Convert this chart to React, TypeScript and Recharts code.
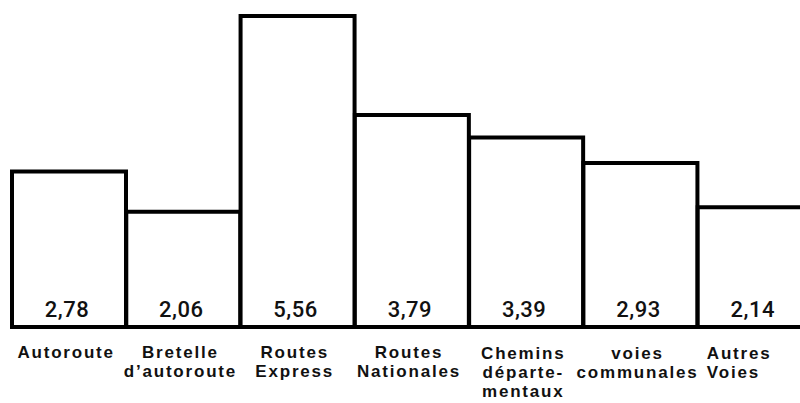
import { BarChart, Bar, XAxis, YAxis, LabelList } from "recharts";

const categories = [
  "Autoroute",
  "Bretelle\nd’autoroute",
  "Routes\nExpress",
  "Routes\nNationales",
  "Chemins\ndéparte-\nmentaux",
  "voies\ncommunales",
  "Autres\nVoies",
];
const values = [2.78, 2.06, 5.56, 3.79, 3.39, 2.93, 2.14];

const data = categories.map((name, i) => ({ name, value: values[i] }));

const FONT = "'Liberation Sans', Arial, sans-serif";

const Tick = ({ x, y, payload, index }: any) => {
  const lines = String(payload.value).split("\n");
  const last = index === categories.length - 1;
  const firstDy = index >= 4 ? 32 : 31;
  const tx = last ? x - 48 : x - 3;
  return (
    <text
      x={tx}
      y={y}
      textAnchor={last ? "start" : "middle"}
      fontFamily={FONT}
      fontWeight="bold"
      fontSize={17}
      letterSpacing={1.8}
      fill="#111"
    >
      {lines.map((l, i) => (
        <tspan key={i} x={tx} dy={i === 0 ? firstDy : 19}>{l}</tspan>
      ))}
    </text>
  );
};

const ValueLabel = ({ x, y, width, height, value }: any) => (
  <text
    x={x + width / 2 - 2}
    y={y + height - 10}
    textAnchor="middle"
    fontFamily="Roboto, 'Liberation Sans', sans-serif"
    fontWeight={500}
    fontSize={22}
    letterSpacing={0.5}
    fill="#111"
  >
    {Number(value).toFixed(2).replace(".", ",")}
  </text>
);

export default function App() {
  return (
    <div style={{ position: "absolute", left: 0, top: 0, width: 800, height: 403, overflow: "hidden", background: "#fff" }}>
      <BarChart width={812} height={403} data={data} barCategoryGap={0} margin={{ top: 16, right: 0, left: 12, bottom: 0 }}>
        <XAxis dataKey="name" interval={0} axisLine={false} tickLine={false} tickSize={0} tickMargin={0} height={76} tick={<Tick />} />
        <YAxis hide domain={[0, 5.56]} />
        <Bar dataKey="value" fill="#fff" stroke="#000" strokeWidth={4} isAnimationActive={false}>
          <LabelList dataKey="value" content={<ValueLabel />} />
        </Bar>
      </BarChart>
    </div>
  );
}
